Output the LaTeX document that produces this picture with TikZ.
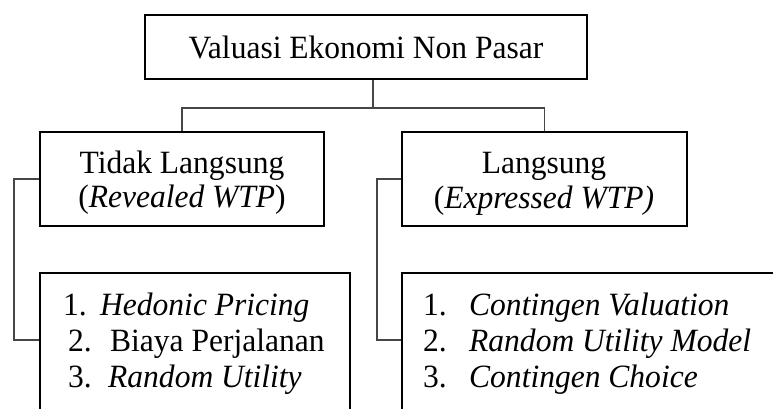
\documentclass[tikz,border=0pt]{standalone}
\usepackage{fontspec}
\setmainfont[FakeStretch=0.97]{Liberation Serif}
\begin{document}
\begin{tikzpicture}[x=1pt,y=-1pt,
  box/.style={draw=black,line width=1.6pt,inner sep=0pt},
  conn/.style={draw={rgb,255:red,70;green,70;blue,70},line width=1.1pt},
  txt/.style={inner sep=0pt,anchor=base,font=\fontsize{32.5}{36}\selectfont},
  ltxt/.style={inner sep=0pt,anchor=base west,font=\fontsize{32.5}{36}\selectfont}]
\useasboundingbox (0,0) rectangle (773,408);
\clip (0,0) rectangle (773,408);
% boxes
\node[box,minimum width=442pt,minimum height=64pt] (top) at (366,47) {};
\node[box,minimum width=284pt,minimum height=94pt] (lbox) at (182,179) {};
\node[box,minimum width=285pt,minimum height=94pt] (rbox) at (544.5,179) {};
\node[box,minimum width=310pt,minimum height=160pt] (blbox) at (195,353) {};
\node[box,minimum width=420pt,minimum height=160pt] (brbox) at (612,353) {};
% texts
\node[txt] (ttop) at (366,58) {Valuasi Ekonomi Non Pasar};
\node[txt] (tl1) at (182,173) {Tidak Langsung};
\node[txt] (tl2) at (182,207) {(\textit{Revealed WTP})};
\node[txt] (tr1) at (544,173) {Langsung};
\node[txt] (tr2) at (544,208) {(\textit{Expressed WTP)}};
\node[ltxt] (bl1) at (63,315) {\makebox[37pt][l]{1.}\textit{Hedonic Pricing}};
\node[ltxt] (bl2) at (68,351) {\makebox[42pt][l]{2.}Biaya Perjalanan};
\node[ltxt] (bl3) at (68,387) {\makebox[40pt][l]{3.}\textit{Random Utility}};
\node[ltxt] (br1) at (423,315) {\makebox[46pt][l]{1.}\textit{Contingen Valuation}};
\node[ltxt] (br2) at (423,351) {\makebox[46pt][l]{2.}\textit{Random Utility Model}};
\node[ltxt] (br3) at (423,387) {\makebox[46pt][l]{3.}\textit{Contingen Choice}};
% connectors
\coordinate (j) at (373,108);
\coordinate (lc) at (14,340);
\coordinate (rc) at (377,340);
\draw[conn] (j |- top.south) -- (j);
\draw[conn] (lbox.north) |- (j) -| (rbox.north);
\draw[conn] (lbox.west) -| (lc) -- (lc -| blbox.west);
\draw[conn] (rbox.west) -| (rc) -- (rc -| brbox.west);
\end{tikzpicture}
\end{document}
